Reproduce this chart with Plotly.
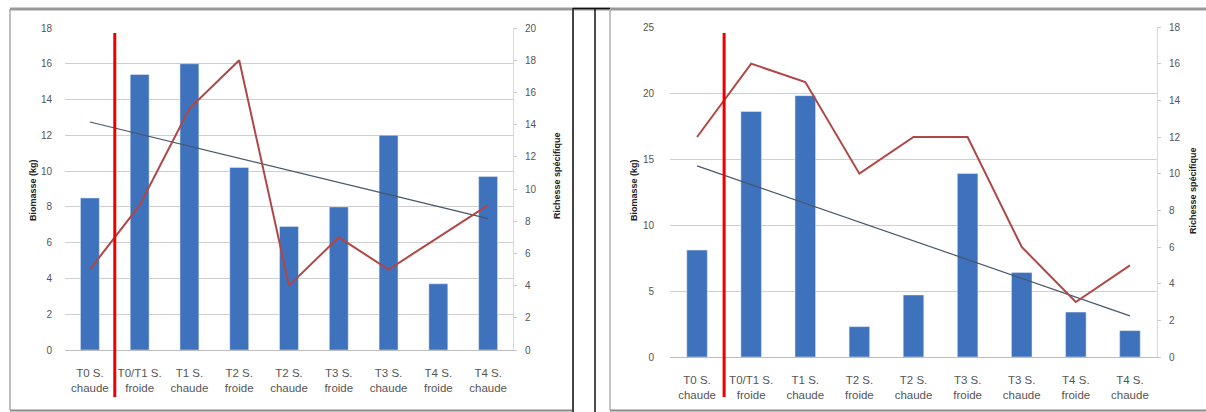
import numpy as np
import plotly.graph_objects as go

categories = ["T0 S.<br>chaude", "T0/T1 S.<br>froide", "T1 S.<br>chaude", "T2 S.<br>froide",
              "T2 S.<br>chaude", "T3 S.<br>froide", "T3 S.<br>chaude", "T4 S.<br>froide",
              "T4 S.<br>chaude"]

# Left chart
biomass_left = [8.5, 15.4, 16.0, 10.2, 6.9, 8.0, 12.0, 3.7, 9.7]
richness_left = [5, 9, 15, 18, 4, 7, 5, 7, 9]

# Right chart
biomass_right = [8.1, 18.6, 19.8, 2.3, 4.7, 13.9, 6.4, 3.4, 2.0]
richness_right = [12, 16, 15, 10, 12, 12, 6, 3, 5]

left_ticks = list(range(0, 19, 2))
left_rticks = list(range(0, 21, 2))
right_ticks = list(range(0, 26, 5))
right_rticks = list(range(0, 19, 2))

y_title = "Biomasse (kg)"
y2_title = "Richesse spécifique"

BAR = "#3f72bd"
RED = "#b04747"
TREND = "#48566a"
FONT = "Liberation Sans Narrow, Liberation Sans, Arial"

W, H = 1206, 412


def px_x(p):
    return p / W


def px_y(p):
    return 1 - p / H


def trend(vals):
    x = np.arange(len(vals))
    a, b = np.polyfit(x, vals, 1)
    return list(a * x + b)


fig = go.Figure()

fig.add_trace(go.Bar(x=categories, y=biomass_left, marker_color=BAR, width=0.38,
                     xaxis="x", yaxis="y", showlegend=False, hoverinfo="skip"))
fig.add_trace(go.Scatter(x=categories, y=trend(biomass_left), mode="lines",
                         line=dict(color=TREND, width=1.2), xaxis="x", yaxis="y", showlegend=False,
                         hoverinfo="skip"))
fig.add_trace(go.Scatter(x=categories, y=richness_left, mode="lines",
                         line=dict(color=RED, width=2), xaxis="x", yaxis="y2", showlegend=False,
                         hoverinfo="skip"))

fig.add_trace(go.Bar(x=categories, y=biomass_right, marker_color=BAR, width=0.38,
                     xaxis="x2", yaxis="y3", showlegend=False, hoverinfo="skip"))
fig.add_trace(go.Scatter(x=categories, y=trend(biomass_right), mode="lines",
                         line=dict(color=TREND, width=1.2), xaxis="x2", yaxis="y3", showlegend=False,
                         hoverinfo="skip"))
fig.add_trace(go.Scatter(x=categories, y=richness_right, mode="lines",
                         line=dict(color=RED, width=2), xaxis="x2", yaxis="y4", showlegend=False,
                         hoverinfo="skip"))

tickfont = dict(family=FONT, size=10, color="#555555")
xtickfont = dict(family=FONT, size=11.5, color="#555555")
titlefont = dict(family="Liberation Sans, Arial", size=9, color="#222222")

xcommon = dict(showgrid=False, showline=True, linecolor="#bdbdbd", linewidth=1,
               ticks="", tickfont=xtickfont, fixedrange=True, tickangle=0, automargin=False,
               ticklabelstandoff=12)
ycommon = dict(showgrid=True, gridcolor="#cfcfcf", gridwidth=1, zeroline=False,
               showline=False, tickfont=tickfont, ticks="", automargin=False)
yrcommon = dict(showgrid=False, zeroline=False, showline=True, linecolor="#d9d9d9",
                ticks="outside", ticklen=3, tickcolor="#c8c8c8", tickfont=tickfont,
                automargin=False, ticklabelstandoff=6)

fig.update_layout(
    width=W, height=H,
    margin=dict(l=0, r=0, t=0, b=0, pad=0),
    paper_bgcolor="white", plot_bgcolor="white",
    xaxis=dict(domain=[px_x(65), px_x(513)], anchor="y", **xcommon),
    yaxis=dict(domain=[px_y(350), px_y(28)], range=[0, 18], tickvals=left_ticks, anchor="x",
               ticklabelstandoff=12, **ycommon),
    yaxis2=dict(domain=[px_y(350), px_y(28)], range=[0, 20], tickvals=left_rticks, overlaying="y",
                side="right", anchor="x", **yrcommon),
    xaxis2=dict(domain=[px_x(670), px_x(1157)], anchor="y3", **xcommon),
    yaxis3=dict(domain=[px_y(357), px_y(27)], range=[0, 25], tickvals=right_ticks, anchor="x2",
                ticklabelstandoff=15, **ycommon),
    yaxis4=dict(domain=[px_y(357), px_y(27)], range=[0, 18], tickvals=right_rticks, overlaying="y3",
                side="right", anchor="x2", **yrcommon),
)


def vtitle(text, x, y):
    return dict(text="<b>" + text + "</b>", xref="paper", yref="paper", x=px_x(x), y=px_y(y),
                xanchor="center", yanchor="middle", textangle=-90, showarrow=False,
                font=titlefont)


fig.update_layout(annotations=[
    vtitle(y_title, 33, 190),
    vtitle(y2_title, 557, 176),
    vtitle(y_title, 634, 190),
    vtitle(y2_title, 1193, 191),
])


def hline(x0, x1, y, color, width):
    return dict(type="line", xref="paper", yref="paper", x0=px_x(x0), x1=px_x(x1),
                y0=px_y(y), y1=px_y(y), line=dict(color=color, width=width))


def vline(x, y0, y1, color, width):
    return dict(type="line", xref="paper", yref="paper", x0=px_x(x), x1=px_x(x),
                y0=px_y(y0), y1=px_y(y1), line=dict(color=color, width=width))


shapes = [
    hline(10, 1206, 9, "#9a9a9a", 3),
    vline(10, 9, 410, "#a8a8a8", 1.5),
    hline(10, 573, 410.5, "#8a8a8a", 2),
    vline(573, 8, 412, "#444444", 2),
    vline(595, 8, 412, "#111111", 1.5),
    hline(573, 610, 8.5, "#111111", 1.5),
    vline(610, 9, 410, "#b0b0b0", 1.5),
    hline(610, 1206, 410.5, "#8a8a8a", 2),
    dict(type="line", xref="x", yref="paper", x0=0.5, x1=0.5, y0=px_y(397), y1=px_y(33),
         line=dict(color="#ee0000", width=3)),
    dict(type="line", xref="x2", yref="paper", x0=0.5, x1=0.5, y0=px_y(397), y1=px_y(33),
         line=dict(color="#ee0000", width=3)),
]

fig.update_layout(shapes=shapes)

fig.write_html(
    "out.html",
    config={"displayModeBar": False},
    post_script="document.body.style.margin='0';document.body.style.overflow='hidden';"
                "document.documentElement.style.overflow='hidden';",
)
